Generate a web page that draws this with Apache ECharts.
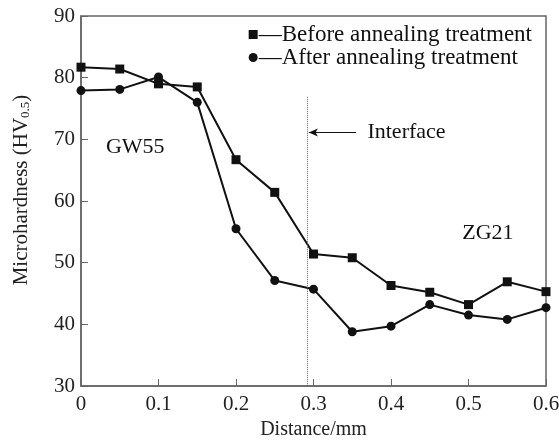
<!DOCTYPE html>
<html lang="en">
<head>
<meta charset="UTF-8">
<title>Microhardness</title>
<script src="https://cdn.jsdelivr.net/npm/echarts@6/dist/echarts.min.js"></script>
<style>
    html, body { margin: 0; padding: 0; background: #fff; }
    #chart { width: 559px; height: 441px; }
</style>
</head>
<body>
<div id="chart"></div>
<script>
    // distance (mm)
    var distance = [0, 0.05, 0.1, 0.15, 0.2, 0.25, 0.3, 0.35, 0.4, 0.45, 0.5, 0.55, 0.6];
    // microhardness values
    var before = [81.7, 81.4, 79.0, 78.5, 66.7, 61.4, 51.4, 50.8, 46.3, 45.2, 43.2, 46.9, 45.3];
    var after  = [77.9, 78.1, 80.1, 76.0, 55.5, 47.1, 45.7, 38.8, 39.7, 43.2, 41.5, 40.8, 42.7];
    var seriesNames = ['\u2014Before annealing treatment', '\u2014After annealing treatment'];
    var interfaceX = 0.292;

    function pairs(ys) {
        return distance.map(function (x, i) { return [x, ys[i]]; });
    }

    var font = 'Liberation Serif, Times New Roman, serif';
    var chart = echarts.init(document.getElementById('chart'));

    chart.setOption({
        animation: false,
        textStyle: { fontFamily: font, color: '#222' },
        grid: {
            left: 81, right: 13, top: 16, bottom: 55, outerBoundsMode: 'none',
            show: true, borderColor: '#666', borderWidth: 1.5
        },
        legend: {
            right: 22, top: 18, orient: 'vertical', itemGap: 0,
            itemWidth: 9, itemHeight: 9,
            textStyle: { fontFamily: font, fontSize: 23, color: '#111', padding: [0, 0, 0, -4] },
            data: [
                { name: seriesNames[0], icon: 'rect' },
                { name: seriesNames[1], icon: 'circle' }
            ]
        },
        xAxis: {
            type: 'value', min: 0, max: 0.6, interval: 0.1,
            name: 'Distance/mm', nameLocation: 'middle', nameGap: 33,
            nameTextStyle: { fontFamily: font, fontSize: 20, color: '#222' },
            axisLine: { lineStyle: { color: '#666', width: 1.5 } },
            axisTick: { inside: true, length: 7, lineStyle: { color: '#666' } },
            axisLabel: { fontSize: 21, color: '#222', margin: 8, formatter: function (v) { return String(+v.toFixed(1)); } },
            splitLine: { show: false }
        },
        yAxis: {
            type: 'value', min: 30, max: 90, interval: 10,
            name: '{a|Microhardness (HV}{s|0.5}{a|)}', nameLocation: 'middle', nameGap: 49, nameRotate: 90,
            nameTextStyle: {
                padding: [0, 0, 0, 22],
                rich: {
                    a: { fontFamily: font, fontSize: 21, color: '#222' },
                    s: { fontFamily: font, fontSize: 13, color: '#222', verticalAlign: 'bottom', padding: [8, 0, 0, 0] }
                }
            },
            axisLine: { lineStyle: { color: '#666', width: 1.5 } },
            axisTick: { inside: true, length: 7, lineStyle: { color: '#666' } },
            axisLabel: { fontSize: 21, color: '#222', margin: 6 },
            splitLine: { show: false }
        },
        series: [
            {
                name: seriesNames[0], type: 'line', data: pairs(before),
                symbol: 'rect', symbolSize: 9,
                lineStyle: { color: '#111', width: 2 },
                itemStyle: { color: '#111' },
                markLine: {
                    silent: true, symbol: 'none',
                    lineStyle: { color: '#666', type: 'dotted', width: 1 },
                    label: { show: false },
                    data: [[{ coord: [interfaceX, 76.9] }, { coord: [interfaceX, 30] }]]
                }
            },
            {
                name: seriesNames[1], type: 'line', data: pairs(after),
                symbol: 'circle', symbolSize: 9,
                lineStyle: { color: '#111', width: 2 },
                itemStyle: { color: '#111' },
                markLine: {
                    silent: true, symbol: ['none', 'arrow'], symbolSize: [6, 9],
                    lineStyle: { color: '#111', type: 'solid', width: 1.2 },
                    label: { show: false },
                    data: [[{ coord: [0.355, 71.1] }, { coord: [interfaceX + 0.002, 71.1] }]]
                },
                markPoint: {
                    silent: true, symbol: 'circle', symbolSize: 0,
                    label: { show: true, fontFamily: font, fontSize: 22, color: '#111' },
                    data: [
                        { coord: [0.42, 71.1], value: 'Interface' },
                        { coord: [0.07, 68.8], value: 'GW55' },
                        { coord: [0.525, 54.8], value: 'ZG21' }
                    ]
                }
            }
        ]
    });
</script>
</body>
</html>
